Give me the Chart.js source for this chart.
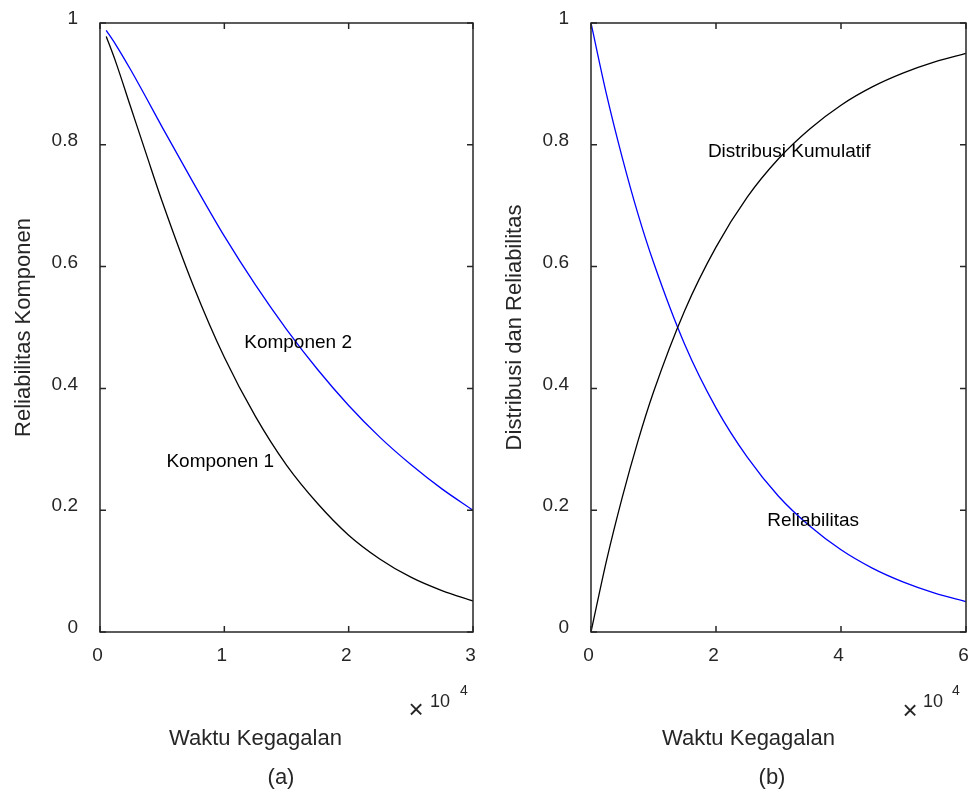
<!DOCTYPE html>
<html>
<head>
<meta charset="utf-8">
<script src="https://cdn.jsdelivr.net/npm/chart.js@4.4.1/dist/chart.umd.min.js"></script>
<style>
  html, body { margin: 0; padding: 0; background: #fff; }
  #wrap { position: relative; width: 971px; height: 791px; }
  .panel { position: absolute; top: 0; height: 791px; }
  #panelA { left: 0; width: 485px; }
  #panelB { left: 485px; width: 486px; }
</style>
</head>
<body>
<div id="wrap">
  <div class="panel" id="panelA"><canvas id="chartA"></canvas></div>
  <div class="panel" id="panelB"><canvas id="chartB"></canvas></div>
</div>
<script>
// (a) reliabilitas dua komponen, waktu dalam satuan 10^4
var waktuA = [0.05, 0.125, 0.25, 0.375, 0.5, 0.75, 1, 1.25, 1.5, 1.75, 2, 2.25, 2.5, 2.75, 3];
var komponen1 = [0.978, 0.937, 0.860, 0.783, 0.707, 0.569, 0.451, 0.354, 0.274, 0.211, 0.159, 0.120, 0.090, 0.068, 0.051];
var komponen2 = [0.988, 0.965, 0.922, 0.876, 0.829, 0.738, 0.650, 0.570, 0.497, 0.431, 0.372, 0.320, 0.275, 0.235, 0.200];

// (b) distribusi kumulatif dan reliabilitas
var waktuB = [0, 0.25, 0.5, 0.75, 1, 1.5, 2, 2.5, 3, 3.5, 4, 4.5, 5, 5.5, 6];
var kumulatif = [0, 0.118, 0.221, 0.313, 0.394, 0.528, 0.632, 0.714, 0.777, 0.826, 0.865, 0.895, 0.918, 0.936, 0.950];
var reliabilitas = [1, 0.882, 0.779, 0.687, 0.607, 0.472, 0.368, 0.287, 0.223, 0.174, 0.135, 0.105, 0.082, 0.064, 0.050];

var yTickLabels = ['0', '0.2', '0.4', '0.6', '0.8', '1'];
var xTickLabelsA = ['0', '1', '2', '3'];
var xTickLabelsB = ['0', '2', '4', '6'];

var FONT = '"Liberation Sans", Arial, Helvetica, sans-serif';
var INK = '#262626';

function toPoints(xs, ys) {
    return xs.map(function(x, i) { return { x: x, y: ys[i] }; });
}

// kotak sumbu dengan tick di dalam + teks tambahan
var axesFrame = {
    id: 'axesFrame',
    afterDraw: function(chart, args, opts) {
        var ctx = chart.ctx, a = chart.chartArea;
        var xs = chart.scales.x, ys = chart.scales.y;
        ctx.save();
        ctx.strokeStyle = INK;
        ctx.lineWidth = 1.5;
        ctx.strokeRect(a.left, a.top, a.right - a.left, a.bottom - a.top);
        ctx.beginPath();
        xs.ticks.forEach(function(t, i) {
            var px = xs.getPixelForTick(i);
            ctx.moveTo(px, a.bottom); ctx.lineTo(px, a.bottom - 6);
            ctx.moveTo(px, a.top); ctx.lineTo(px, a.top + 6);
        });
        ys.ticks.forEach(function(t, i) {
            var py = ys.getPixelForTick(i);
            ctx.moveTo(a.left, py); ctx.lineTo(a.left + 6, py);
            ctx.moveTo(a.right, py); ctx.lineTo(a.right - 6, py);
        });
        ctx.stroke();

        ctx.fillStyle = '#000';
        ctx.textBaseline = 'middle';
        ctx.textAlign = 'left';
        ctx.font = '19px ' + FONT;
        opts.notes.forEach(function(n) {
            ctx.fillText(n.text, xs.getPixelForValue(n.x), ys.getPixelForValue(n.y));
        });

        ctx.fillStyle = INK;
        ctx.textBaseline = 'alphabetic';
        opts.texts.forEach(function(t) {
            ctx.font = t.size + 'px ' + FONT;
            ctx.textAlign = t.align || 'left';
            if (t.rotate) {
                ctx.save();
                ctx.translate(t.x, t.y);
                ctx.rotate(-Math.PI / 2);
                ctx.textAlign = 'center';
                ctx.fillText(t.text, 0, 0);
                ctx.restore();
            } else {
                ctx.fillText(t.text, t.x, t.y);
            }
        });
        ctx.restore();
    }
};

function buildChart(id, cfg) {
    return new Chart(document.getElementById(id), {
        type: 'scatter',
        data: { datasets: cfg.datasets },
        plugins: [axesFrame],
        options: {
            responsive: true,
            maintainAspectRatio: false,
            animation: false,
            layout: { padding: cfg.padding },
            elements: { point: { radius: 0 }, line: { borderWidth: 1.3, cubicInterpolationMode: 'monotone' } },
            plugins: {
                legend: { display: false },
                tooltip: { enabled: false },
                axesFrame: { notes: cfg.notes, texts: cfg.texts }
            },
            scales: {
                x: {
                    type: 'linear', min: 0, max: cfg.xMax,
                    grid: { display: false, drawTicks: false },
                    border: { display: false },
                    afterFit: function(s) {
                        s.height = 159;
                        s.paddingLeft = 0; s.paddingRight = 0;
                    },
                    ticks: {
                        stepSize: cfg.xStep, padding: 12, labelOffset: -2.5,
                        color: INK, font: { family: FONT, size: 19 },
                        maxRotation: 0,
                        callback: function(v, i) { return cfg.xLabels[i]; }
                    }
                },
                y: {
                    type: 'linear', min: 0, max: 1,
                    grid: { display: false, drawTicks: false },
                    border: { display: false },
                    afterFit: function(s) {
                        s.width = cfg.yWidth;
                        s.paddingTop = 0; s.paddingBottom = 0;
                    },
                    ticks: {
                        stepSize: 0.2, padding: 22, labelOffset: -4,
                        color: INK, font: { family: FONT, size: 19 },
                        callback: function(v, i) { return yTickLabels[i]; }
                    }
                }
            }
        }
    });
}

buildChart('chartA', {
    xMax: 3, xStep: 1, xLabels: xTickLabelsA, yWidth: 100,
    padding: { left: 0, right: 12, top: 23, bottom: 0 },
    datasets: [
        { data: toPoints(waktuA, komponen1), showLine: true, borderColor: '#000000' },
        { data: toPoints(waktuA, komponen2), showLine: true, borderColor: '#0000ff' }
    ],
    notes: [
        { text: 'Komponen 2', x: 1.16, y: 0.475 },
        { text: 'Komponen 1', x: 0.534, y: 0.28 }
    ],
    texts: [
        { text: '\u00d7', x: 416, y: 718, size: 26, align: 'center' },
        { text: '10', x: 430, y: 707, size: 18 },
        { text: '4', x: 460, y: 695, size: 14 },
        { text: 'Waktu Kegagalan', x: 255.5, y: 745, size: 22, align: 'center' },
        { text: '(a)', x: 281, y: 784, size: 22, align: 'center' },
        { text: 'Reliabilitas Komponen', x: 30, y: 327.5, size: 22, rotate: true }
    ]
});

buildChart('chartB', {
    xMax: 6, xStep: 2, xLabels: xTickLabelsB, yWidth: 106,
    padding: { left: 0, right: 5, top: 23, bottom: 0 },
    datasets: [
        { data: toPoints(waktuB, kumulatif), showLine: true, borderColor: '#000000' },
        { data: toPoints(waktuB, reliabilitas), showLine: true, borderColor: '#0000ff' }
    ],
    notes: [
        { text: 'Distribusi Kumulatif', x: 1.87, y: 0.789 },
        { text: 'Reliabilitas', x: 2.82, y: 0.182 }
    ],
    texts: [
        { text: '\u00d7', x: 425, y: 719, size: 26, align: 'center' },
        { text: '10', x: 438, y: 707, size: 18 },
        { text: '4', x: 467, y: 695, size: 14 },
        { text: 'Waktu Kegagalan', x: 263.5, y: 745, size: 22, align: 'center' },
        { text: '(b)', x: 287, y: 784, size: 22, align: 'center' },
        { text: 'Distribusi dan Reliabilitas', x: 36, y: 327.5, size: 22, rotate: true }
    ]
});
</script>
</body>
</html>
